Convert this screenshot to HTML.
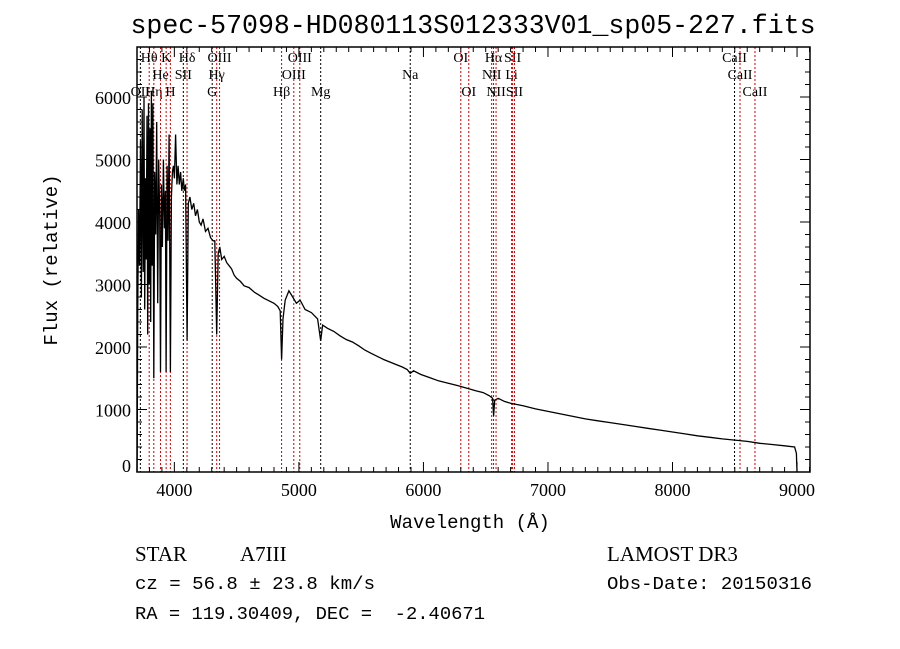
<!DOCTYPE html>
<html><head><meta charset="utf-8"><style>
body{margin:0;background:#fff;width:900px;height:649px;overflow:hidden}
svg{display:block}
text{font-family:"Liberation Serif",serif;fill:#000}
.mono{font-family:"Liberation Mono",monospace}
</style></head><body>
<svg id="chart" width="900" height="649" viewBox="0 0 900 649" xmlns="http://www.w3.org/2000/svg">
<text x="473" y="33" text-anchor="middle" font-size="27" class="mono" textLength="685" lengthAdjust="spacingAndGlyphs">spec-57098-HD080113S012333V01_sp05-227.fits</text>
<text x="470" y="528" text-anchor="middle" font-size="19" class="mono">Wavelength (Å)</text>
<text transform="translate(57,260) rotate(-90)" text-anchor="middle" font-size="19" class="mono">Flux (relative)</text>
<text x="135" y="561" font-size="21">STAR</text>
<text x="240" y="561" font-size="21">A7III</text>
<text x="607" y="561" font-size="21">LAMOST DR3</text>
<text x="135" y="589" font-size="18" class="mono" textLength="240" lengthAdjust="spacingAndGlyphs">cz = 56.8 ± 23.8 km/s</text>
<text x="607" y="589" font-size="18" class="mono" textLength="205" lengthAdjust="spacingAndGlyphs">Obs-Date: 20150316</text>
<text x="135" y="619" font-size="18" class="mono" xml:space="preserve" textLength="350" lengthAdjust="spacingAndGlyphs">RA = 119.30409, DEC =  -2.40671</text>
<g id="plot"></g>
</svg>
<script>
const xTicks=[4000,5000,6000,7000,8000,9000];
const yTicks=[0,1000,2000,3000,4000,5000,6000];
const lineWl=[3727,3798,3835,3889,3934,3968,4072,4102,4304,4340,4363,4861,4959,5007,5175,5894,6300,6364,6548,6563,6583,6708,6716,6731,8498,8542,8662];
const lineName=["OII","Hθ","Hη","He","K","H","SII","Hδ","G","Hγ","OIII","Hβ","OIII","OIII","Mg","Na","OI","OI","NII","Hα","NII","Li","SII","SII","CaII","CaII","CaII"];
const lineRow=[2,0,2,1,0,2,1,0,2,1,0,2,1,0,2,1,0,2,1,0,2,1,0,2,0,1,2];
const lineRed=[0,1,1,1,1,1,0,1,0,1,1,1,1,1,0,0,1,1,1,1,1,1,1,1,0,1,1];
const specWl=[3700,3702,3706,3712,3720,3728,3735,3742,3750,3756,3762,3768,3774,3780,3786,3792,3798,3804,3810,3816,3822,3828,3835,3842,3850,3858,3866,3874,3882,3889,3896,3904,3912,3920,3928,3934,3942,3950,3958,3968,3976,3984,3992,4000,4010,4020,4030,4040,4050,4060,4072,4080,4090,4102,4112,4125,4140,4155,4170,4185,4200,4215,4230,4250,4270,4290,4310,4325,4340,4352,4365,4380,4400,4420,4440,4460,4480,4500,4530,4560,4600,4640,4680,4720,4760,4800,4830,4850,4861,4872,4890,4920,4950,4980,5010,5050,5100,5150,5175,5190,5230,5280,5330,5380,5430,5480,5530,5580,5630,5680,5730,5780,5830,5870,5894,5920,5980,6050,6120,6200,6280,6350,6420,6480,6530,6555,6563,6572,6600,6650,6700,6800,6900,7000,7100,7200,7300,7400,7500,7600,7700,7800,7900,8000,8100,8200,8300,8400,8500,8600,8700,8800,8900,8980,8995,9000];
const specFl=[0,400,2500,4200,3300,5300,2800,5800,3200,6000,2600,4700,3400,5700,2200,5900,3000,5500,2400,6100,3300,5900,1500,4800,3800,5600,2700,5000,4100,1600,4600,3600,5000,3900,4500,1600,4900,3700,5400,1600,4400,4800,4900,4700,5400,4600,4900,4600,4800,4500,4700,4500,4600,2100,4300,4400,4200,4300,4100,4200,4000,3950,4050,3850,3900,3750,3700,3700,2200,3500,3600,3400,3450,3350,3300,3250,3150,3100,3050,2980,2950,2880,2830,2780,2740,2700,2650,2580,1800,2450,2750,2900,2800,2700,2750,2600,2550,2450,2100,2350,2300,2250,2180,2120,2080,2020,1950,1900,1850,1800,1760,1720,1680,1640,1580,1620,1560,1510,1460,1420,1380,1340,1300,1270,1220,1180,900,1150,1180,1130,1100,1060,1010,970,930,890,850,820,790,760,730,700,670,640,610,580,555,530,510,490,460,440,420,400,300,0];
const L=137,R=810,T=47,B=472;
const xs=w=>L+(w-3700)*(R-L)/(9104-3700);
const ys=f=>B-f*0.0625;
const NS="http://www.w3.org/2000/svg";
const g=document.getElementById('plot');
function mk(t,a){const e=document.createElementNS(NS,t);for(const k in a)e.setAttribute(k,a[k]);g.appendChild(e);return e;}
lineWl.forEach((w,i)=>{
 const x=xs(w);
 const ln=mk('line',{x1:x,x2:x,y1:T,y2:B,stroke:lineRed[i]?'#c00':'#000','stroke-width':1,'stroke-dasharray':'2,2'});
 
 
 const tx=mk('text',{x:x,y:62+lineRow[i]*17,'text-anchor':'middle','font-size':14});
 tx.textContent=lineName[i];
 
 
});
let d='';specWl.forEach((w,i)=>{d+=(i?'L':'M')+xs(w).toFixed(1)+','+ys(specFl[i]).toFixed(1);});
const p=mk('path',{d:d,fill:'none',stroke:'#000','stroke-width':1.3});


const fr=mk('rect',{x:L,y:T,width:R-L,height:B-T,fill:'none',stroke:'#000','stroke-width':1.5});


for(let w=3800;w<=9100;w+=100){const x=xs(w);const len=w%1000?5:10;
 mk('line',{x1:x,x2:x,y1:B,y2:B-len,stroke:'#000'});mk('line',{x1:x,x2:x,y1:T,y2:T+len,stroke:'#000'});}
xTicks.forEach(w=>{const t=mk('text',{x:xs(w),y:B+24,'text-anchor':'middle','font-size':18,'font-family':'Liberation Sans, sans-serif'});t.textContent=w;
 
 });
for(let f=0;f<=6800;f+=200){const y=ys(f);const len=f%1000?5:10;
 mk('line',{x1:L,x2:L+len,y1:y,y2:y,stroke:'#000'});mk('line',{x1:R,x2:R-len,y1:y,y2:y,stroke:'#000'});}
yTicks.forEach(f=>{const t=mk('text',{x:L-6,y:Math.min(ys(f)+7,B),'text-anchor':'end','font-size':18,'font-family':'Liberation Sans, sans-serif'});t.textContent=f;
 
 });
</script>
</body></html>
